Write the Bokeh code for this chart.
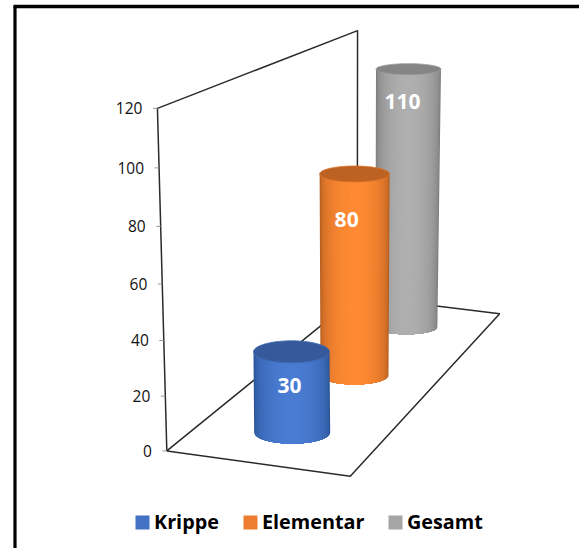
import numpy as np
from bokeh.plotting import figure
from bokeh.models import Range1d
from bokeh.core.properties import value
from bokeh.embed import file_html
from bokeh.resources import INLINE

# ---- data ----
categories = ["Krippe", "Elementar", "Gesamt"]
values = [30, 80, 110]
ticks = [0, 20, 40, 60, 80, 100, 120]
axis_max = 120

# ---- style / layout ----
centre_col = ["#4A7CD2", "#FF8A33", "#AFAFAF"]
edge_col = ["#2A5397", "#B55E20", "#7C7C7C"]
top_col = ["#35599B", "#BD6222", "#858585"]
swatch_col = ["#4472C4", "#ED7D31", "#A5A5A5"]
label_dx = [-2, -8, -6]
label_dy = [34, 46, 32]
legend_x = [135, 243, 388]
rx_base, rx_top = [38, 34, 31], [38, 35, 32.5]
ry_base, ry_top = [11, 9, 7], [11, 8, 5.5]
pos_u = [0.506, 0.512, 0.514]
pos_w = [0.157, 0.490, 0.825]
height_gain = 1.016

# 3D box -> page projection (u across, w depth, v height), fitted on the box corners
corners_3d = [(0, 0, 0), (1, 0, 0), (0, 1, 0), (1, 1, 0), (0, 0, 1), (0, 1, 1)]
corners_2d = [(166, 450), (350, 476), (357, 296), (499, 313), (157, 108), (357, 30)]
A, b = [], []
for (u, w, v), (x, y) in zip(corners_3d, corners_2d):
    A.append([u, w, v, 1, 0, 0, 0, 0, -x * u, -x * w, -x * v])
    b.append(x)
    A.append([0, 0, 0, 0, u, w, v, 1, -y * u, -y * w, -y * v])
    b.append(y)
h = np.linalg.lstsq(np.array(A, float), np.array(b, float), rcond=None)[0]
P = np.append(h, 1).reshape(3, 4)


def project(u, w, v):
    q = P @ np.array([u, w, v, 1.0])
    return q[0] / q[2], q[1] / q[2]


def mix(c1, c2, t):
    a = [int(c1[i:i + 2], 16) for i in (1, 3, 5)]
    z = [int(c2[i:i + 2], 16) for i in (1, 3, 5)]
    return "#%02x%02x%02x" % tuple(round(p + (q - p) * t) for p, q in zip(a, z))


p = figure(width=579, height=548, output_backend="svg", toolbar_location=None,
           x_range=Range1d(0, 579), y_range=Range1d(548, 0), min_border=0)
p.axis.visible = False
p.grid.visible = False
p.outline_line_color = None
p.background_fill_color = "white"
p.border_fill_color = "white"

# outer frame
p.line([14.5, 14.5], [5.5, 548], line_color="black", line_width=3.2)
p.line([13, 579], [6, 6], line_color="black", line_width=3.5)

# wall and floor
ink = "#2a2a2a"
wall = [project(0, w, v) for w, v in [(0, 0), (0, 1), (1, 1), (1, 0)]]
p.line([c[0] for c in wall], [c[1] for c in wall], line_color=ink, line_width=1.5)
floor = [project(u, w, 0) for u, w in [(0, 0), (1, 0), (1, 1), (0, 1), (0, 0)]]
p.line([c[0] for c in floor], [c[1] for c in floor], line_color=ink, line_width=1.5)

# ticks and tick labels
for t in ticks:
    v = t / axis_max
    tx, ty = project(0, 0, v)
    p.segment(tx - 4.5, ty, tx, ty, line_color="#999999", line_width=1)
    p.text(tx - 15, ty, text=[str(t)], text_align="right", text_baseline="middle",
           text_font=value("Open Sans"), text_font_size="15.5px", text_color="#111111")

# cylinders, back to front
levels = 36
for i in [2, 1, 0]:
    v = height_gain * values[i] / axis_max
    bcx, bcy = project(pos_u[i], pos_w[i], 0)
    tcx, tcy = project(pos_u[i], pos_w[i], v)
    for k in range(levels):
        f = 1 - k / levels
        th = np.linspace(np.arccos(f), np.pi - np.arccos(f), 25)
        xs = list(bcx + rx_base[i] * np.cos(th)) + list(tcx + rx_top[i] * np.cos(th[::-1]))
        ys = list(bcy + ry_base[i] * np.sin(th)) + list(tcy + ry_top[i] * np.sin(th[::-1]))
        col = mix(edge_col[i], centre_col[i], np.sqrt(1 - f * f))
        p.patch(xs, ys, fill_color=col, line_color=None)
    th = np.linspace(0, 2 * np.pi, 73)
    p.patch(tcx + rx_top[i] * np.cos(th), tcy + ry_top[i] * np.sin(th), fill_color=top_col[i],
            line_color=mix(top_col[i], centre_col[i], 0.5), line_width=0.8)
    p.text(tcx + label_dx[i], tcy + label_dy[i], text=[str(values[i])], text_align="center",
           text_baseline="middle", text_font=value("Open Sans"), text_font_style="bold",
           text_font_size="21px", text_color="white")

# legend
for i, name in enumerate(categories):
    p.rect(legend_x[i] + 7, 522, width=14, height=14, fill_color=swatch_col[i], line_color=None)
    p.text(legend_x[i] + 18.5, 520.5, text=[name], text_align="left", text_baseline="middle",
           text_font=value("Open Sans"), text_font_style="bold", text_font_size="19.8px",
           text_color="black")

open("out.html", "w").write(file_html(p, INLINE))
